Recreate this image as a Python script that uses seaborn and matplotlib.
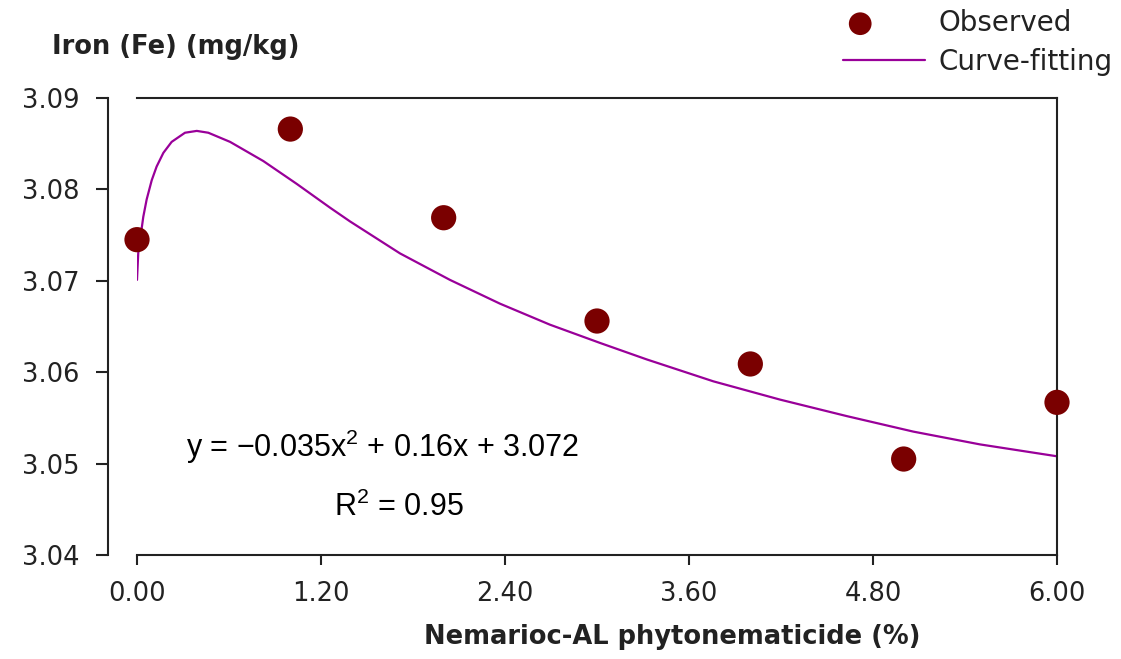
import matplotlib
matplotlib.use("Agg")
import matplotlib.pyplot as plt
import seaborn as sns
import pandas as pd
from matplotlib.collections import PathCollection
from matplotlib.legend_handler import HandlerPathCollection

# Observed data
obs_x = [0, 1, 2, 3, 4, 5, 6]
obs_y = [3.0745, 3.0866, 3.0769, 3.0656, 3.0609, 3.0505, 3.0567]

# Curve-fitting line
fit_x = [0.000, 0.008, 0.041, 0.063, 0.096, 0.128, 0.172, 0.226, 0.313, 0.390,
         0.465, 0.607, 0.824, 1.042, 1.259, 1.389, 1.715, 2.041, 2.367, 2.693,
         3.020, 3.324, 3.759, 4.194, 4.628, 5.063, 5.498, 6.000]
fit_y = [3.0701, 3.0730, 3.0770, 3.0789, 3.0810, 3.0825, 3.0840, 3.0852, 3.0862, 3.0864,
         3.0862, 3.0852, 3.0831, 3.0806, 3.0780, 3.0765, 3.0730, 3.0701, 3.0675, 3.0652,
         3.0632, 3.0614, 3.0590, 3.0570, 3.0552, 3.0535, 3.0521, 3.0508]

x_ticks = [0.0, 1.2, 2.4, 3.6, 4.8, 6.0]
x_tick_labels = ["0.00", "1.20", "2.40", "3.60", "4.80", "6.00"]
y_ticks = [3.04, 3.05, 3.06, 3.07, 3.08, 3.09]
y_tick_labels = ["3.04", "3.05", "3.06", "3.07", "3.08", "3.09"]

sns.set_style("ticks")
plt.rcParams["font.family"] = ["DejaVu Sans"]
plt.rcParams["mathtext.fontset"] = "custom"
plt.rcParams["mathtext.rm"] = "Liberation Sans"
plt.rcParams["mathtext.it"] = "Liberation Sans:italic"
plt.rcParams["mathtext.bf"] = "Liberation Sans:bold"


class LeftMarkerHandler(HandlerPathCollection):
    def get_xdata(self, legend, xdescent, ydescent, width, height, fontsize):
        xd = [-xdescent + 0.21 * width]
        return xd, xd


W, H = 1121, 659
fig = plt.figure(figsize=(W / 100, H / 100), dpi=100)
ax = fig.add_axes([137 / W, 1 - 555 / H, (1057 - 137) / W, (555 - 98) / H])

df_obs = pd.DataFrame({"x": obs_x, "y": obs_y})
df_fit = pd.DataFrame({"x": fit_x, "y": fit_y})

sns.lineplot(data=df_fit, x="x", y="y", ax=ax, color="#990099", linewidth=1.6,
             label="Curve-fitting", zorder=2, sort=False)
sns.scatterplot(data=df_obs, x="x", y="y", ax=ax, color="#7a0000", s=330,
                edgecolor="none", label="Observed", zorder=3, clip_on=False)

ax.set_xlim(0, 6)
ax.set_ylim(3.04, 3.09)
ax.set_xticks(x_ticks)
ax.set_xticklabels(x_tick_labels)
ax.set_yticks(y_ticks)
ax.set_yticklabels(y_tick_labels)
ax.set_xlabel("")
ax.set_ylabel("")

for s in ["top", "right", "left", "bottom"]:
    ax.spines[s].set_visible(True)
    ax.spines[s].set_color("#222222")
    ax.spines[s].set_linewidth(1.5)
ax.spines["left"].set_position(("outward", 21))

ax.tick_params(axis="y", direction="out", length=8.5, width=1.5, pad=12,
               labelsize=18.5, colors="#222222")
ax.tick_params(axis="x", direction="out", length=7, width=1.5, pad=12,
               labelsize=18.5, colors="#222222")

# Legend
handles, labels = ax.get_legend_handles_labels()
order = [labels.index("Observed"), labels.index("Curve-fitting")]
ax.legend([handles[i] for i in order], [labels[i] for i in order],
          loc="upper left", bbox_to_anchor=(843 / W, 1 - 9 / H),
          bbox_transform=fig.transFigure, frameon=False, fontsize=20,
          handlelength=2.95, handletextpad=0.5, labelspacing=0.38,
          borderpad=0, borderaxespad=0, markerscale=0.9, labelcolor="#222222",
          handler_map={PathCollection: LeftMarkerHandler(numpoints=1)})

# Axis titles
fig.text(52 / W, 1 - 47 / H, "Iron (Fe) (mg/kg)", fontsize=18.5, fontweight="bold",
         ha="left", va="center", color="#222222")
fig.text(672 / W, 1 - 637 / H, "Nemarioc-AL phytonematicide (%)", fontsize=18.5,
         fontweight="bold", ha="center", va="center", color="#222222")

# Equation annotations
fig.text(382 / W, 1 - 447 / H, "y = \u22120.035x$^{2}$ + 0.16x + 3.072", fontsize=22,
         family="Liberation Sans", ha="center", va="center", color="black")
fig.text(399 / W, 1 - 507 / H, "R$^{2}$ = 0.95", fontsize=22,
         family="Liberation Sans", ha="center", va="center", color="black")

fig.savefig("out.png", dpi=100)
